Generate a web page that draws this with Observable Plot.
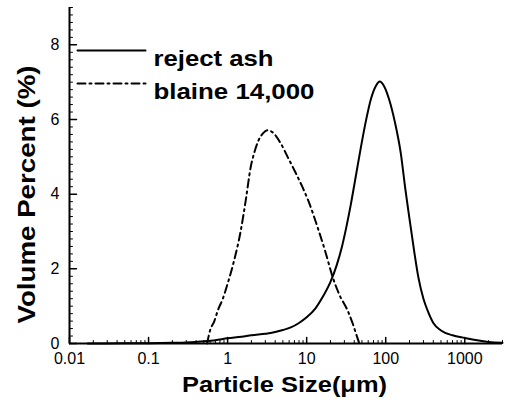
<!DOCTYPE html>
<html><head><meta charset="utf-8">
<script src="https://cdn.jsdelivr.net/npm/d3@7"></script>
<script src="https://cdn.jsdelivr.net/npm/@observablehq/plot@0.6"></script>
<style>body{margin:0;background:#fff;}</style>
</head><body><div id="chart"></div>
<script>
// ---- data ----
const rejectSize = [0.017, 0.05, 0.1, 0.2, 0.3, 0.5, 0.7, 1, 1.5, 2, 3, 3.5, 5, 6.3, 8, 10, 13, 16, 20, 24, 28, 32, 36, 42, 48, 56, 65, 75, 84, 95, 110, 130, 155, 178, 195, 228, 260, 300, 339, 400, 500, 700, 1000, 1500, 2000, 3000];
const rejectVol  = [0, 0.005, 0.01, 0.02, 0.03, 0.06, 0.09, 0.14, 0.18, 0.22, 0.26, 0.28, 0.36, 0.43, 0.55, 0.7, 0.95, 1.25, 1.65, 2.1, 2.6, 3.15, 3.7, 4.5, 5.2, 5.95, 6.55, 6.9, 7.02, 6.9, 6.55, 5.95, 5.1, 4.1, 3.5, 2.5, 1.75, 1.2, 0.88, 0.55, 0.35, 0.22, 0.15, 0.08, 0.04, 0.02];
const blaineSize = [0.55, 0.6, 0.68, 0.75, 0.87, 1.0, 1.2, 1.46, 1.7, 1.95, 2.2, 2.46, 2.8, 3.2, 3.7, 4.7, 5.8, 7.3, 8.8, 10.6, 13.8, 17, 21.4, 26, 33, 38, 42, 46];
const blaineVol  = [0, 0.35, 0.6, 0.88, 1.2, 1.6, 2.2, 3.0, 3.85, 4.7, 5.15, 5.44, 5.63, 5.71, 5.66, 5.36, 4.98, 4.56, 4.2, 3.8, 3.1, 2.5, 1.77, 1.3, 0.88, 0.55, 0.27, 0.02];
const seriesNames = ["reject ash", "blaine 14,000"];
const xMajor = [0.01, 0.1, 1, 10, 100, 1000];
const xTickLabels = ["0.01", "0.1", "1", "10", "100", "1000"];
const yMajor = [0, 2, 4, 6, 8];
const yTickLabels = ["0", "2", "4", "6", "8"];
const xTitle = "Particle Size(\u03bcm)";
const yTitle = "Volume Percent (%)";

// ---- derived tables ----
const reject = rejectSize.map((s, i) => ({s, v: rejectVol[i]}));
const blaine = blaineSize.map((s, i) => ({s, v: blaineVol[i]}));
const xMinor = [];
for (let e = -2; e <= 3; e++) for (let m = 2; m <= 9; m++) { const v = m * Math.pow(10, e); if (v <= 3000) xMinor.push(v); }
const yMinor = d3.range(1, 46).map(k => k * 0.2).filter(v => Math.abs(v / 2 - Math.round(v / 2)) > 1e-6);
const dashes = [null, "8,4,2,4"];
const tickShape = {draw(ctx, l) { ctx.moveTo(0, 0); ctx.lineTo(0, -l); }};

const legendMarks = seriesNames.flatMap((name, i) => [
  Plot.vector([name], {frameAnchor: "top-left", dx: 8, dy: 43 + 33 * i, rotate: 90, length: 68, anchor: "start", shape: tickShape, stroke: "black", strokeWidth: 2, strokeDasharray: dashes[i]}),
  Plot.text([name], {frameAnchor: "top-left", dx: 84, dy: 43 + 33 * i, text: d => d, textAnchor: "start", fontSize: 22, fontWeight: "bold"})
]);

const chart = Plot.plot({
  width: 505, height: 410,
  marginLeft: 69, marginRight: 3, marginTop: 7, marginBottom: 67,
  x: {type: "log", domain: [0.01, 3000], axis: null},
  y: {domain: [0, 9], axis: null},
  style: {fontFamily: "'Liberation Sans', Arial, sans-serif", background: "white", color: "black"},
  marks: [
    Plot.line(blaine, {x: "s", y: "v", curve: "monotone-x", stroke: "black", strokeWidth: 2, strokeDasharray: dashes[1]}),
    Plot.line(reject, {x: "s", y: "v", curve: "monotone-x", stroke: "black", strokeWidth: 2}),
    Plot.ruleY([0], {stroke: "black", strokeWidth: 2}),
    Plot.ruleX([0.01], {stroke: "black", strokeWidth: 2}),
    Plot.vector(xMajor, {x: d => d, frameAnchor: "bottom", length: 6, anchor: "start", shape: tickShape, stroke: "black", strokeWidth: 1.5}),
    Plot.vector(xMinor, {x: d => d, frameAnchor: "bottom", length: 3, anchor: "start", shape: tickShape, stroke: "black", strokeWidth: 1}),
    Plot.vector(yMajor, {y: d => d, frameAnchor: "left", rotate: 90, length: 7, anchor: "start", shape: tickShape, stroke: "black", strokeWidth: 1.5}),
    Plot.vector(yMinor, {y: d => d, frameAnchor: "left", rotate: 90, length: 3, anchor: "start", shape: tickShape, stroke: "black", strokeWidth: 1}),
    Plot.text(xMajor, {x: d => d, frameAnchor: "bottom", text: (d, i) => xTickLabels[i], dy: 9, lineAnchor: "top", fontSize: 16}),
    Plot.text(yMajor, {y: d => d, frameAnchor: "left", text: (d, i) => yTickLabels[i], dx: -10, textAnchor: "end", fontSize: 16}),
    Plot.text([xTitle], {frameAnchor: "bottom", text: d => d, dx: -1.5, dy: 48, textAnchor: "middle", fontSize: 22, fontWeight: "bold"}),
    Plot.text([yTitle], {frameAnchor: "left", text: d => d, rotate: -90, dx: -42, dy: 19, textAnchor: "middle", fontSize: 24, fontWeight: "bold"}),
    ...legendMarks
  ]
});
document.getElementById("chart").appendChild(chart);

const lengths = {"reject ash": 120, "blaine 14,000": 161};
lengths[xTitle] = 205; lengths[yTitle] = 258;
d3.select(chart).selectAll("text").each(function() {
  const L = lengths[this.textContent];
  if (L) { this.setAttribute("textLength", L); this.setAttribute("lengthAdjust", "spacingAndGlyphs"); }
});
</script></body></html>
